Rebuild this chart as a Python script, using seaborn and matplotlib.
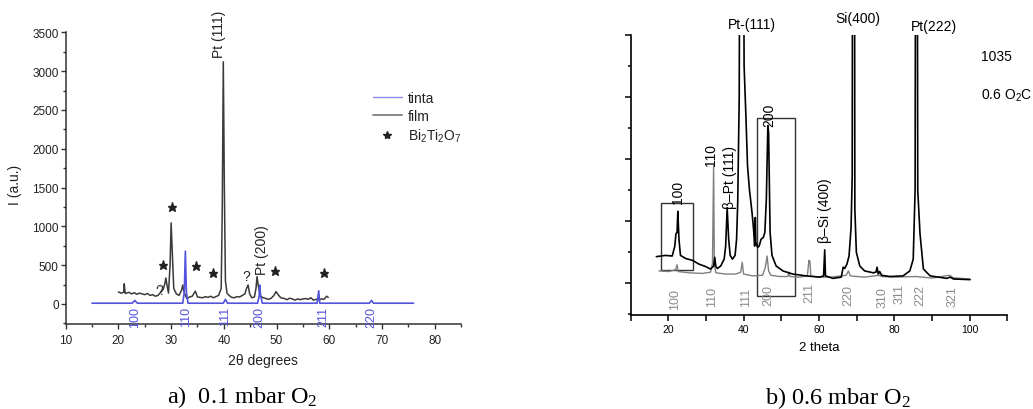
import matplotlib
matplotlib.use("Agg")
import matplotlib.pyplot as plt
import pandas as pd
import seaborn as sns
from matplotlib.lines import Line2D
from matplotlib.patches import Rectangle
from matplotlib.ticker import MultipleLocator, NullFormatter

sns.set_theme(style="ticks")
plt.rcParams['font.family'] = ['Liberation Sans', 'DejaVu Sans']
plt.rcParams['mathtext.default'] = 'regular'

# ---- panel a) 0.1 mbar O2 ----
a_film_x = [20.0, 20.5, 21.0, 21.1, 21.3, 22.0, 22.5, 23.0, 23.5, 24.0, 24.5, 25.0, 25.5, 26.0,
            26.5, 27.0, 27.5, 28.0, 28.5, 28.8, 29.0, 29.2, 29.5, 29.8, 30.0, 30.2, 30.5, 31.0,
            31.5, 32.0, 32.2, 32.5, 33.0, 33.5, 34.0, 34.6, 35.0, 35.5, 36.0, 36.5, 37.0, 37.5,
            38.0, 38.5, 39.0, 39.5, 39.7, 39.9, 40.1, 40.3, 40.6, 41.0, 41.5, 42.0, 42.5, 43.0,
            43.5, 44.0, 44.3, 44.6, 44.9, 45.3, 45.8, 46.1, 46.3, 46.5, 46.9, 47.5, 48.0, 48.5,
            49.0, 49.5, 49.9, 50.3, 50.8, 51.5, 52.0, 52.5, 53.0, 53.5, 54.0, 54.5, 55.0, 55.5,
            56.0, 56.5, 57.0, 57.5, 58.0, 58.5, 59.0, 59.5, 59.8]
a_film_y = [155, 140, 150, 260, 135, 150, 130, 145, 125, 140, 130, 120, 135, 110,
            120, 100, 110, 150, 190, 260, 335, 250, 140, 500, 1045, 700, 200, 130,
            110, 180, 245, 140, 70, 90, 100, 165, 90, 85, 80, 95, 85, 100,
            80, 95, 110, 200, 1200, 3120, 1500, 300, 140, 110, 85, 80, 95, 90,
            110, 130, 200, 245, 130, 80, 90, 200, 352, 250, 100, 80, 70, 60,
            75, 110, 160, 120, 80, 70, 55, 75, 65, 50, 65, 55, 65, 70,
            60, 80, 50, 60, 55, 65, 60, 100, 85]

a_tinta_x = [15.0, 22.6, 23.1, 23.6, 32.2, 32.5, 32.7, 32.9, 33.2, 39.9, 40.3, 40.7,
             46.4, 46.7, 46.8, 47.0, 47.3, 57.7, 58.0, 58.2, 67.6, 68.0, 68.4, 76.0]
a_tinta_y = [10, 10, 45, 10, 10, 150, 680, 150, 10, 10, 60, 10,
             10, 100, 245, 100, 10, 10, 170, 10, 10, 45, 10, 10]

a_star_x = [28.4, 30.1, 34.8, 37.9, 49.7, 59.0]
a_star_y = [500, 1255, 485, 400, 420, 400]

a_hkl = ["100", "110", "111", "200", "211", "220"]
a_hkl_x = [23.1, 32.8, 40.3, 46.7, 58.8, 68.0]

# ---- panel b) 0.6 mbar O2 ----
b_film_x = [16.8, 19.2, 21.0, 21.7, 22.0, 22.3, 22.5, 22.8, 23.2, 24.6, 26.4, 28.1, 29.9, 31.2,
            32.0, 32.3, 32.6, 33.0, 33.9, 34.8, 35.2, 35.6, 36.0, 36.4, 37.0, 37.7, 38.1, 38.4,
            38.8, 39.35, 40.1, 40.6, 41.0, 41.5, 42.2, 42.6, 42.9, 43.07, 43.2, 43.7, 44.1, 44.6,
            45.2, 45.6, 46.0, 46.4, 46.6, 47.0, 47.5, 48.6, 50.4, 53.0, 56.6, 60.1, 61.2, 61.5,
            61.7, 63.7, 65.9, 66.4, 66.8, 67.4, 67.96, 68.5, 68.8, 69.15, 69.5, 69.9, 70.8, 72.1,
            74.4, 75.1, 75.4, 75.7, 76.1, 76.6, 78.8, 82.3, 84.1, 85.0, 85.5, 85.85, 86.2, 86.8,
            87.7, 89.5, 93.9, 94.8, 95.7, 100.1]
b_film_y = [0.43, 0.45, 0.44, 0.60, 0.80, 0.82, 1.16, 0.71, 0.45, 0.40, 0.37, 0.31, 0.27, 0.23,
            0.28, 0.42, 0.27, 0.24, 0.28, 0.39, 0.60, 1.22, 0.71, 0.45, 0.39, 0.45, 0.71, 1.30,
            3.00, 14.0, 3.50, 2.65, 1.90, 1.52, 1.14, 0.88, 0.60, 1.06, 0.66, 0.58, 0.60, 0.71,
            0.74, 0.82, 1.35, 2.54, 2.43, 0.82, 0.45, 0.28, 0.20, 0.15, 0.12, 0.10, 0.12, 0.54,
            0.12, 0.08, 0.10, 0.26, 0.24, 0.31, 0.44, 0.90, 1.73, 20.0, 1.20, 0.50, 0.28, 0.20,
            0.17, 0.18, 0.26, 0.15, 0.19, 0.13, 0.11, 0.12, 0.20, 0.39, 1.50, 15.0, 1.50, 0.80,
            0.23, 0.12, 0.08, 0.10, 0.07, 0.06]

b_ref_x = [17.5, 20.1, 21.9, 22.3, 22.6, 25.5, 29.0, 31.2, 31.7, 32.0, 32.2, 32.6, 35.2, 37.9,
           39.2, 39.6, 39.96, 42.4, 45.0, 45.7, 46.2, 46.6, 47.2, 49.5, 51.7, 52.0, 52.3, 54.8,
           56.9, 57.3, 57.6, 57.8, 60.1, 63.0, 67.2, 67.8, 68.3, 72.0, 76.0, 76.5, 80.0, 85.7,
           90.0, 94.5, 95.0, 95.5, 100.0]
b_ref_y = [0.20, 0.19, 0.22, 0.30, 0.19, 0.17, 0.16, 0.18, 0.33, 1.90, 0.30, 0.17, 0.15, 0.15,
           0.18, 0.34, 0.15, 0.12, 0.13, 0.25, 0.44, 0.20, 0.13, 0.11, 0.11, 0.18, 0.11, 0.10,
           0.12, 0.37, 0.35, 0.12, 0.10, 0.10, 0.13, 0.20, 0.12, 0.10, 0.13, 0.11, 0.10, 0.11,
           0.085, 0.13, 0.12, 0.09, 0.07]

b_ref_hkl = ["100", "110", "111", "200", "211", "220", "310", "311", "222", "321"]
b_ref_hkl_x = [21.7, 31.7, 40.6, 46.4, 57.5, 67.7, 76.9, 81.5, 86.8, 95.4]
b_ref_hkl_y = [-0.08, -0.04, -0.05, -0.01, 0.016, -0.01, -0.04, 0.005, -0.01, -0.03]

b_peak_text = ["100", "110", "β–Pt (111)", "200", "β–Si (400)"]
b_peak_x = [22.5, 31.4, 36.4, 46.8, 61.5]
b_peak_y = [1.29, 1.90, 1.21, 2.54, 0.66]

b_top_text = ["Pt-(111)", "Si(400)", "Pt(222)"]
b_top_x = [42.2, 70.3, 90.4]
b_top_y = [4.18, 4.28, 4.15]

b_boxes = [(17.9, 26.6, 0.22, 1.29), (43.6, 53.5, -0.21, 2.66)]

TXT = "#222222"
BLUE = "#5252dc"

fig = plt.figure(figsize=(10.33, 4.10), dpi=100)
ax1 = fig.add_axes([0.0636, 0.2073, 0.3827, 0.7115])
ax2 = fig.add_axes([0.6106, 0.23, 0.3646, 0.6822])

# panel a
film = pd.DataFrame({"x": a_film_x, "y": a_film_y})
tinta = pd.DataFrame({"x": a_tinta_x, "y": a_tinta_y})
sns.lineplot(data=film, x="x", y="y", ax=ax1, color="#3a3a3a", lw=1.1, estimator=None, sort=False)
sns.lineplot(data=tinta, x="x", y="y", ax=ax1, color=BLUE, lw=1.2, estimator=None, sort=False)
ax1.plot(a_star_x, a_star_y, ls="none", marker="*", ms=6.5, color=TXT)
for lab, x in zip(a_hkl, a_hkl_x):
    ax1.text(x, -22, lab, rotation=90, ha="center", va="top", fontsize=9, color=BLUE)
ax1.text(39.1, 3178, "Pt (111)", rotation=90, ha="center", va="bottom", fontsize=10, color=TXT)
ax1.text(47.3, 386, "Pt (200)", rotation=90, ha="center", va="bottom", fontsize=10, color=TXT)
ax1.text(44.2, 356, "?", ha="center", va="center", fontsize=10, color=TXT)
ax1.text(28.0, 185, "?", ha="center", va="center", fontsize=10, color=TXT, rotation=20)

ax1.set_xlim(10, 85)
ax1.set_ylim(-258, 3500)
ax1.xaxis.set_major_locator(MultipleLocator(10))
ax1.xaxis.set_minor_locator(MultipleLocator(5))
ax1.yaxis.set_major_locator(MultipleLocator(500))
ax1.yaxis.set_minor_locator(MultipleLocator(250))
ax1.tick_params(which="major", length=3.5, width=1, labelsize=8.5, colors="#333333", labelcolor=TXT)
ax1.tick_params(which="minor", length=2.2, width=1, colors="#333333")
ax1.tick_params(axis="y", pad=1.5)
ax1.tick_params(axis="x", pad=3.5)
sns.despine(ax=ax1)
for s in ("left", "bottom"):
    ax1.spines[s].set_color("#333333")
    ax1.spines[s].set_linewidth(1.1)
ax1.set_xlabel("2θ degrees", fontsize=10, color=TXT)
ax1.set_ylabel("I (a.u.)", fontsize=10, color=TXT)
ax1.xaxis.set_label_coords(0.5, -0.1)
ax1.yaxis.set_label_coords(-0.11, 0.48)

handles = [Line2D([], [], color="#8888e6", lw=1.0),
           Line2D([], [], color="#888888", lw=1.4),
           Line2D([], [], ls="none", marker="*", ms=6, color=TXT)]
ax1.legend(handles, ["tinta", "film", "Bi$_2$Ti$_2$O$_7$"], loc="upper left",
           bbox_to_anchor=(0.777, 0.80), frameon=False, fontsize=10, handlelength=2.1,
           handletextpad=0.4, labelspacing=0.3, borderpad=0, borderaxespad=0,
           labelcolor=TXT)

# panel b
ref = pd.DataFrame({"x": b_ref_x, "y": b_ref_y})
filmb = pd.DataFrame({"x": b_film_x, "y": b_film_y})
sns.lineplot(data=ref, x="x", y="y", ax=ax2, color="#7f7f7f", lw=1.0, estimator=None, sort=False)
sns.lineplot(data=filmb, x="x", y="y", ax=ax2, color="black", lw=1.2, estimator=None, sort=False)
for x0, x1, y0, y1 in b_boxes:
    ax2.add_patch(Rectangle((x0, y0), x1 - x0, y1 - y0, fill=False, ec="#333333", lw=1.0))
for lab, x, y in zip(b_ref_hkl, b_ref_hkl_x, b_ref_hkl_y):
    ax2.text(x, y, lab, rotation=90, ha="center", va="top", fontsize=9, color="#8a8a8a")
for lab, x, y in zip(b_peak_text, b_peak_x, b_peak_y):
    ax2.text(x, y, lab, rotation=90, ha="center", va="bottom", fontsize=10, color="black")
for lab, x, y in zip(b_top_text, b_top_x, b_top_y):
    ax2.text(x, y, lab, ha="center", va="center", fontsize=10, color="black")
ax2.text(103, 3.66, "1035", ha="left", va="center", fontsize=10, color="black")
ax2.text(103, 3.03, "0.6 O$_2$C", ha="left", va="center", fontsize=10, color="black")

ax2.set_xlim(10, 110)
ax2.set_ylim(-0.505, 4.0)
ax2.xaxis.set_major_locator(MultipleLocator(20))
ax2.xaxis.set_minor_locator(MultipleLocator(10))
ax2.yaxis.set_major_locator(MultipleLocator(1))
ax2.yaxis.set_minor_locator(MultipleLocator(0.5))
ax2.yaxis.set_major_formatter(NullFormatter())
ax2.tick_params(which="major", length=4, width=1.1, labelsize=7.5, colors="black", pad=2.5)
ax2.tick_params(axis="x", which="minor", length=4, width=1.1, colors="black")
ax2.tick_params(axis="y", which="minor", length=2.5, width=1.1, colors="black")
sns.despine(ax=ax2)
for s in ("left", "bottom"):
    ax2.spines[s].set_color("black")
    ax2.spines[s].set_linewidth(1.2)
ax2.set_xlabel("2 theta", fontsize=9.5, color="black")
ax2.set_ylabel("")
ax2.xaxis.set_label_coords(0.5, -0.095)

# captions
fig.text(242 / 1033, 1 - 397 / 410, "a)  0.1 mbar O$_2$", ha="center", va="center",
         fontsize=17.5, family=["Liberation Serif", "DejaVu Serif"], color="black")
fig.text(838 / 1033, 1 - 398 / 410, "b) 0.6 mbar O$_2$", ha="center", va="center",
         fontsize=17.5, family=["Liberation Serif", "DejaVu Serif"], color="black")

fig.savefig("out.png", dpi=100)
